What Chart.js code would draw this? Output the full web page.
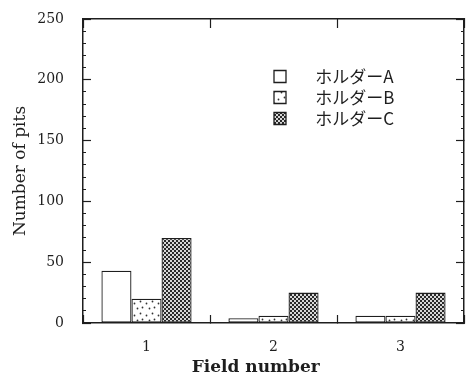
<!DOCTYPE html>
<html>
<head>
<meta charset="utf-8">
<script src="https://cdn.jsdelivr.net/npm/chart.js@4/dist/chart.umd.min.js"></script>
<style>
  body { margin: 0; background: #fff; }
  canvas { display: block; }
</style>
</head>
<body>
<canvas id="pitChart" width="468" height="376"></canvas>
<script>
const fields = ['1', '2', '3'];
const seriesNames = ['ホルダーA', 'ホルダーB', 'ホルダーC'];
const holderA = [43, 4, 6];
const holderB = [20, 6, 6];
const holderC = [70, 25, 25];
const yMin = 0;
const yMax = 250;

const ink = '#1e1e1e';

// small tiles used as bar fills
function makePattern(size, paint) {
    const c = document.createElement('canvas');
    c.width = size;
    c.height = size;
    paint(c.getContext('2d'));
    return c.getContext('2d').createPattern(c, 'repeat');
}

const dotted = makePattern(12, g => {
    g.fillStyle = '#fff';
    g.fillRect(0, 0, 12, 12);
    g.fillStyle = '#333';
    [[2, 3], [8, 1], [5, 8], [10, 7]].forEach(([x, y]) => {
        g.beginPath();
        g.arc(x + 0.5, y + 0.5, 0.9, 0, Math.PI * 2);
        g.fill();
    });
});

const checker = makePattern(4, g => {
    g.fillStyle = '#d8d8d8';
    g.fillRect(0, 0, 4, 4);
    g.fillStyle = '#2a2a2a';
    g.fillRect(0, 0, 2, 2);
    g.fillRect(2, 2, 2, 2);
});

const serif = 'DejaVu Serif';

// legend sits inside the plot, upper right
const legendPlacer = {
    id: 'legendPlacer',
    afterLayout(chart) {
        const lg = chart.legend;
        if (!lg) return;
        lg.left = 270;
        lg.top = 64;
    }
};

// pin scale sizes and drop the label overhang padding so the plot box stays put
function pin(prop, size) {
    return scale => {
        scale[prop] = size;
        scale.paddingTop = 0;
        scale.paddingBottom = 0;
        scale.paddingLeft = 0;
        scale.paddingRight = 0;
    };
}

new Chart(document.getElementById('pitChart').getContext('2d'), {
    type: 'bar',
    data: {
        labels: fields,
        datasets: [
            { label: seriesNames[0], data: holderA, backgroundColor: '#fff' },
            { label: seriesNames[1], data: holderB, backgroundColor: dotted },
            { label: seriesNames[2], data: holderC, backgroundColor: checker }
        ].map(ds => Object.assign(ds, {
            borderColor: ink,
            borderWidth: 1.3,
            borderSkipped: false,
            barPercentage: 1,
            categoryPercentage: 0.71,
            xAxisID: 'x',
            yAxisID: 'y'
        }))
    },
    options: {
        responsive: false,
        animation: false,
        devicePixelRatio: 1,
        layout: { padding: { left: 0, right: 4, top: 19, bottom: 0 } },
        plugins: {
            tooltip: { enabled: false },
            legend: {
                position: 'chartArea',
                align: 'start',
                labels: {
                    color: ink,
                    font: { family: 'Noto Sans CJK JP', size: 17 },
                    boxWidth: 12,
                    boxHeight: 12,
                    padding: 4,
                    generateLabels(chart) {
                        return Chart.defaults.plugins.legend.labels.generateLabels(chart)
                            .map(item => Object.assign(item, { text: '\u3000 ' + item.text }));
                    }
                }
            }
        },
        scales: {
            x: {
                position: 'bottom',
                offset: true,
                afterFit: pin('height', 53),
                grid: { offset: true, drawOnChartArea: false, tickLength: -8, tickColor: ink, tickWidth: 1.2 },
                border: { display: true, color: ink, width: 1.5 },
                ticks: { color: ink, padding: 24, font: { family: serif, size: 14 } },
                title: {
                    display: true,
                    text: 'Field number      ',
                    color: ink,
                    padding: { top: 0, bottom: 0 },
                    font: { family: serif, size: 17, weight: 'bold', lineHeight: 1 }
                }
            },
            xTop: {
                type: 'category',
                position: 'top',
                offset: true,
                afterFit: pin('height', 0),
                grid: { offset: true, drawOnChartArea: false, tickLength: -9, tickColor: ink, tickWidth: 1.2 },
                border: { display: true, color: ink, width: 1.5 },
                ticks: { display: false }
            },
            y: {
                position: 'left',
                weight: 1,
                min: yMin,
                max: yMax,
                afterFit: pin('width', 83),
                grid: { drawOnChartArea: false, tickLength: -8, tickColor: ink, tickWidth: 1.2 },
                border: { display: true, color: ink, width: 1.5 },
                ticks: { stepSize: 50, color: ink, padding: 27, font: { family: serif, size: 14 } },
                title: {
                    display: true,
                    text: 'Number of pits',
                    color: ink,
                    padding: { top: 10, bottom: 0 },
                    font: { family: serif, size: 17 }
                }
            },
            yMinor: {
                position: 'left',
                weight: 0,
                min: yMin,
                max: yMax,
                afterFit: pin('width', 0),
                grid: { drawOnChartArea: false, tickLength: -3, tickColor: ink, tickWidth: 1 },
                border: { display: false },
                ticks: { stepSize: 10, display: false }
            },
            yRight: {
                position: 'right',
                min: yMin,
                max: yMax,
                afterFit: pin('width', 0),
                grid: { drawOnChartArea: false, tickLength: -8, tickColor: ink, tickWidth: 1.2 },
                border: { display: true, color: ink, width: 1.5 },
                ticks: { stepSize: 50, display: false }
            },
            yRightMinor: {
                position: 'right',
                min: yMin,
                max: yMax,
                afterFit: pin('width', 0),
                grid: { drawOnChartArea: false, tickLength: -3, tickColor: ink, tickWidth: 1 },
                border: { display: false },
                ticks: { stepSize: 10, display: false }
            }
        }
    },
    plugins: [legendPlacer]
});
</script>
</body>
</html>
